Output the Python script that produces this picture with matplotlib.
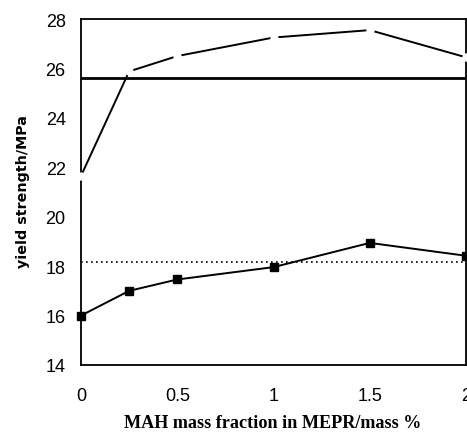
import numpy as np
import matplotlib
matplotlib.use('Agg')
import matplotlib.pyplot as plt

# data
mah = [0, 0.25, 0.5, 1, 1.5, 2]
upper = [21.65, 25.88, 26.5, 27.25, 27.55, 26.45]
lower = [16.0, 17.0, 17.46, 17.96, 18.94, 18.42]
solid_ref = 25.6
dotted_ref = 18.17
xticks = [0, 0.5, 1, 1.5, 2]
xticklabels = ['0', '0.5', '1', '1.5', '2']
yticks = [14, 16, 18, 20, 22, 24, 26, 28]

fig = plt.figure(figsize=(4.67, 4.35), dpi=100)
ax = fig.add_axes([81 / 467, 1 - 366 / 435, 385 / 467, 346 / 435])

ax.axhline(solid_ref, color='black', lw=2.0, zorder=2)
ax.axhline(dotted_ref, color='black', lw=1.2, ls=(0, (1, 2)), zorder=2)

# upper curve: line broken by hollow (white) markers at the data points
ax.plot(mah, upper, color='black', lw=1.4, marker='o', ms=5,
        mfc='white', mec='white', clip_on=False, zorder=4)
ax.plot(mah, lower, color='black', lw=1.4, marker='s', ms=6,
        mfc='black', mec='black', clip_on=False, zorder=4)

ax.set_xlim(0, 2)
ax.set_ylim(14, 28)
ax.set_xticks(xticks)
ax.set_xticklabels(xticklabels)
ax.set_yticks(yticks)
ax.tick_params(length=0, labelsize=13, pad=11)
ax.tick_params(axis='x', pad=16)
for lab in ax.get_xticklabels() + ax.get_yticklabels():
    lab.set_family('Liberation Sans')
for sp in ax.spines.values():
    sp.set_linewidth(1.3)

fig.text(273 / 467, 1 - 424 / 435, 'MAH mass fraction in MEPR/mass %',
         ha='center', va='center', family='Liberation Serif',
         fontweight='bold', fontsize=13.1)
fig.text(23 / 467, 1 - 192 / 435, 'yield strength/MPa', rotation=90,
         ha='center', va='center', family='DejaVu Sans',
         fontweight='bold', fontsize=10.3)

fig.savefig('out.png', dpi=100)
